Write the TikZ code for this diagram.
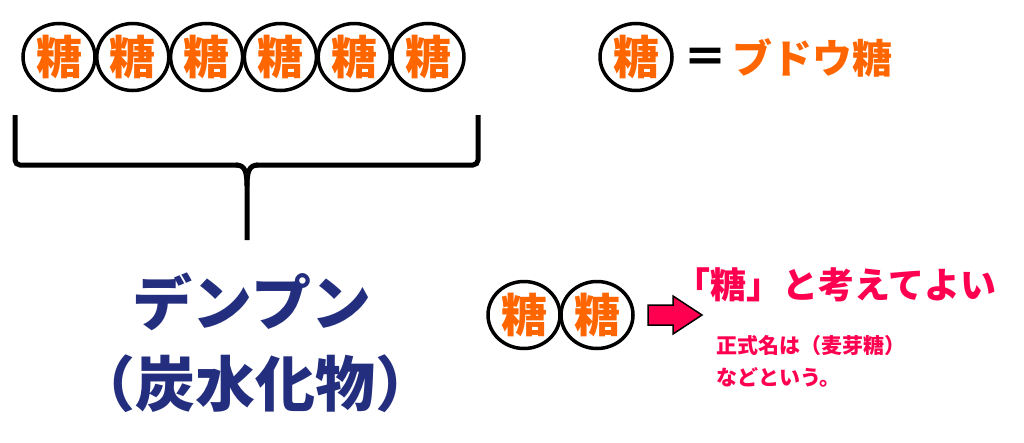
\documentclass[tikz,border=0pt]{standalone}
\usepackage{fontspec}
\newfontfamily\jp{Noto Sans CJK JP}
\usetikzlibrary{shapes.geometric}
\definecolor{tOrange}{HTML}{FF6600}
\definecolor{tNavy}{HTML}{232F7E}
\definecolor{tPink}{HTML}{FF0050}
\tikzset{
  sugar/.style={ellipse, draw=black, line width=3.5pt, minimum width=72pt, minimum height=67pt,
    inner sep=0pt, text=tOrange, font=\jp\bfseries\fontsize{46}{46}\selectfont},
  bigtext/.style={text=tNavy, inner sep=0pt, font=\jp\bfseries\fontsize{60}{60}\selectfont},
  pinktext/.style={text=tPink, inner sep=0pt, anchor=west},
  bracket/.style={draw=black, line width=5pt, rounded corners=5pt},
}
\begin{document}
\begin{tikzpicture}[x=1pt,y=-1pt]
\useasboundingbox (0,0) rectangle (1024,442);
% top chain of six
\foreach \i [count=\n] in {0,...,5} {
  \node[sugar] (s\n) at ({59+73.8*\i},57) {糖};
}
% legend
\node[sugar] (legend) at (636,57) {糖};
\node[text=black, inner sep=0pt, font=\jp\bfseries\fontsize{44}{44}\selectfont] (eq) at (705,61) {＝};
\node[text=tOrange, inner sep=0pt, font=\jp\bfseries\fontsize{40}{40}\selectfont] (budou) at (812,58) {ブドウ糖};
% bracket
\coordinate (bl) at (15,115);
\coordinate (br) at (478,115);
\coordinate (stem) at (247,240);
\draw[bracket] (bl) -- (15,165) -- (238,165);
\draw[bracket] (br) -- (478,165) -- (256,165);
\draw[draw=black, line width=5pt] (236,165) .. controls (245,165) and (247,172) .. (247,186) -- (stem);
\draw[draw=black, line width=5pt] (258,165) .. controls (249,165) and (247,172) .. (247,186);
% labels
\node[bigtext] (denpun) at (252,302) {デンプン};
\node[bigtext] (tanka) at (255,384) {（炭水化物）};
% bottom pair
\node[sugar] (m1) at (524,315) {糖};
\node[sugar] (m2) at (597,315) {糖};
% block arrow
\coordinate (atail) at (648,315);
\coordinate (atip) at (702,315);
\draw[fill=tPink, draw=black, line width=1.5pt] (648,305) -- (673,305) -- (673,296) -- (atip) -- (673,334) -- (673,325) -- (648,325) -- cycle;
\node[pinktext, font=\jp\bfseries\fontsize{36}{36}\selectfont] (think) at (674,285) {「糖」と考えてよい};
\node[pinktext, font=\jp\bfseries\fontsize{21}{21}\selectfont] (formal) at (716,346) {正式名は（麦芽糖）};
\node[pinktext, font=\jp\bfseries\fontsize{21}{21}\selectfont] (say) at (716,377) {などという。};
\end{tikzpicture}
\end{document}
